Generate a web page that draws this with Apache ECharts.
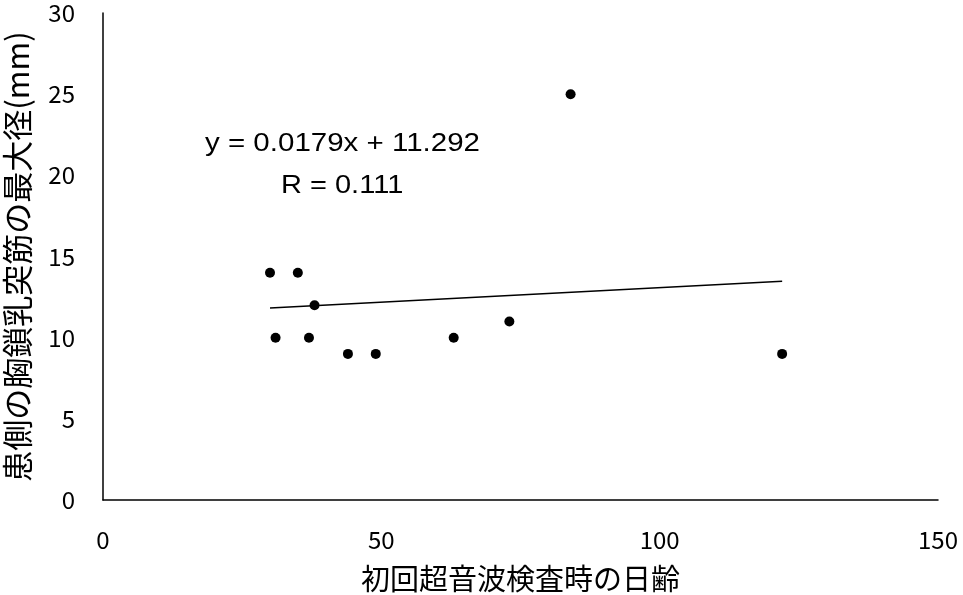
<!DOCTYPE html>
<html>
<head>
  <meta charset="utf-8" />
  <title>ECharts</title>
  <script src="https://cdn.jsdelivr.net/npm/echarts@6/dist/echarts.min.js"></script>
  <style>
    html, body { margin: 0; padding: 0; background: #fff; }
  </style>
</head>
<body>
<div id="main" style="width:963px;height:595px;"></div>
<script type="text/javascript">
  // 日齢と最大径
  var ageDays = [30, 31, 35, 37, 38, 44, 49, 63, 73, 84, 122];
  var diameterMm = [14, 10, 14, 10, 12, 9, 9, 10, 11, 25, 9];
  var slope = 0.0179;
  var intercept = 11.292;
  var eqText = 'y = 0.0179x + 11.292';
  var rText = 'R = 0.111';

  var points = ageDays.map(function (d, i) { return [d, diameterMm[i]]; });
  var xMin = Math.min.apply(null, ageDays);
  var xMax = Math.max.apply(null, ageDays);
  var trend = [[xMin, slope * xMin + intercept], [xMax, slope * xMax + intercept]];

  var font = '"Noto Sans CJK JP", "Noto Sans", sans-serif';
  var eqFont = '"Liberation Sans", Arial, sans-serif';
  var myChart = echarts.init(document.getElementById('main'));
  var option = {
    backgroundColor: '#fff',
    animation: false,
    textStyle: { fontFamily: font },
    grid: { left: 103, right: 25, top: 13, bottom: 95, outerBoundsMode: 'none', containLabel: false },
    xAxis: {
      type: 'value',
      min: 0, max: 150, interval: 50,
      name: '初回超音波検査時の日齢',
      nameLocation: 'middle',
      nameGap: 64,
      nameTextStyle: { fontSize: 29, color: '#000', fontFamily: font },
      axisLine: { show: true, lineStyle: { color: '#000', width: 1.5 } },
      axisTick: { show: false },
      splitLine: { show: false },
      axisLabel: { fontSize: 24, color: '#000', margin: 28, fontFamily: font }
    },
    yAxis: {
      type: 'value',
      min: 0, max: 30, interval: 5,
      name: '患側の胸鎖乳突筋の最大径(mm)',
      nameLocation: 'middle',
      nameGap: 70,
      nameTextStyle: { fontSize: 31, color: '#000', fontFamily: font },
      axisLine: { show: true, lineStyle: { color: '#000', width: 1.5 } },
      axisTick: { show: false },
      splitLine: { show: false },
      axisLabel: { fontSize: 24, color: '#000', margin: 28, fontFamily: font }
    },
    graphic: [
      { type: 'text', left: 205, top: 132, scaleX: 1.18,
        style: { text: eqText, fontSize: 25, fill: '#000', fontFamily: eqFont } },
      { type: 'text', left: 281, top: 174, scaleX: 1.16,
        style: { text: rText, fontSize: 25, fill: '#000', fontFamily: eqFont } }
    ],
    series: [
      {
        type: 'line',
        data: trend,
        symbol: 'none',
        lineStyle: { color: '#000', width: 1.5 },
        z: 2
      },
      {
        type: 'scatter',
        data: points,
        symbolSize: 10,
        itemStyle: { color: '#000', opacity: 1 },
        z: 3
      }
    ]
  };
  myChart.setOption(option);
</script>
</body>
</html>
